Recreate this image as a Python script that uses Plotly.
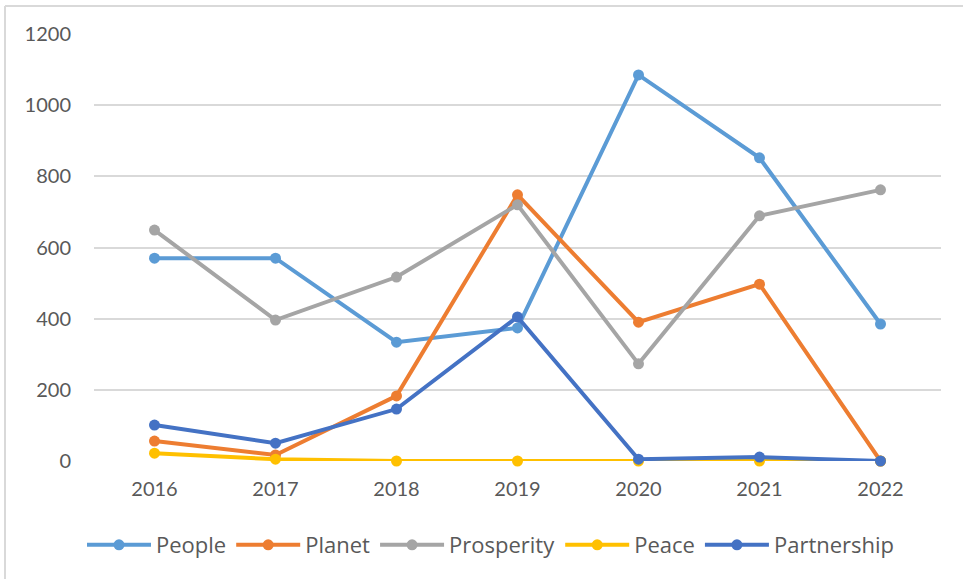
import plotly.graph_objects as go

years = ["2016", "2017", "2018", "2019", "2020", "2021", "2022"]
people = [570, 570, 334, 374, 1085, 852, 385]
planet = [56, 17, 183, 748, 390, 497, 0]
prosperity = [649, 396, 517, 720, 273, 689, 762]
peace = [22, 5, 0, 0, 0, 0, 0]
partnership = [101, 50, 146, 405, 5, 11, 0]
y_ticks = [0, 200, 400, 600, 800, 1000, 1200]

series = [
    ("People", people, "#5B9BD5"),
    ("Planet", planet, "#ED7D31"),
    ("Prosperity", prosperity, "#A5A5A5"),
    ("Peace", peace, "#FFC000"),
    ("Partnership", partnership, "#4472C4"),
]

fig = go.Figure()
for name, vals, col in series:
    fig.add_trace(go.Scatter(
        x=years, y=vals, name=name, mode="lines+markers",
        line=dict(color=col, width=4),
        marker=dict(color=col, size=11),
        cliponaxis=False,
    ))

W, H = 963, 579
l, r, t, b = 94, 22, 34, 118
pw, ph = W - l - r, H - t - b

def px_x(p):
    return (p - l) / pw

def px_y(p):
    return (H - b - p) / ph

FONT = "Lato, Open Sans, Liberation Sans, sans-serif"
LFONT = "Open Sans, Lato, Liberation Sans, sans-serif"
fig.update_layout(
    width=W, height=H,
    margin=dict(l=l, r=r, t=t, b=b),
    paper_bgcolor="white", plot_bgcolor="white",
    font=dict(family=FONT, size=20, color="#595959"),
    showlegend=True,
    legend=dict(orientation="h", x=px_x(491), xanchor="center", y=px_y(545), yanchor="middle",
                font=dict(family=LFONT, size=22, color="#595959"), itemwidth=64,
                tracegroupgap=0),
    xaxis=dict(type="category", showgrid=False, zeroline=False, showline=False,
               ticks="", tickfont=dict(size=20, color="#595959"), range=[-0.5, 6.5],
               ticklabelstandoff=14),
    yaxis=dict(range=[0, 1200], tickvals=y_ticks, showgrid=True, gridcolor="#D9D9D9",
               gridwidth=1.5, zeroline=False, showline=False, ticks="",
               tickfont=dict(size=20, color="#595959"), ticklabelstandoff=22),
    shapes=[
        dict(type="line", xref="paper", yref="paper", x0=px_x(5), x1=px_x(5),
             y0=px_y(6), y1=px_y(600), line=dict(color="#D9D9D9", width=2)),
        dict(type="line", xref="paper", yref="paper", x0=px_x(5), x1=px_x(980),
             y0=px_y(6), y1=px_y(6), line=dict(color="#D9D9D9", width=2)),
    ],
)

fig.write_html("out.html", config={"displayModeBar": False},
               post_script="document.body.style.margin='0px';")
